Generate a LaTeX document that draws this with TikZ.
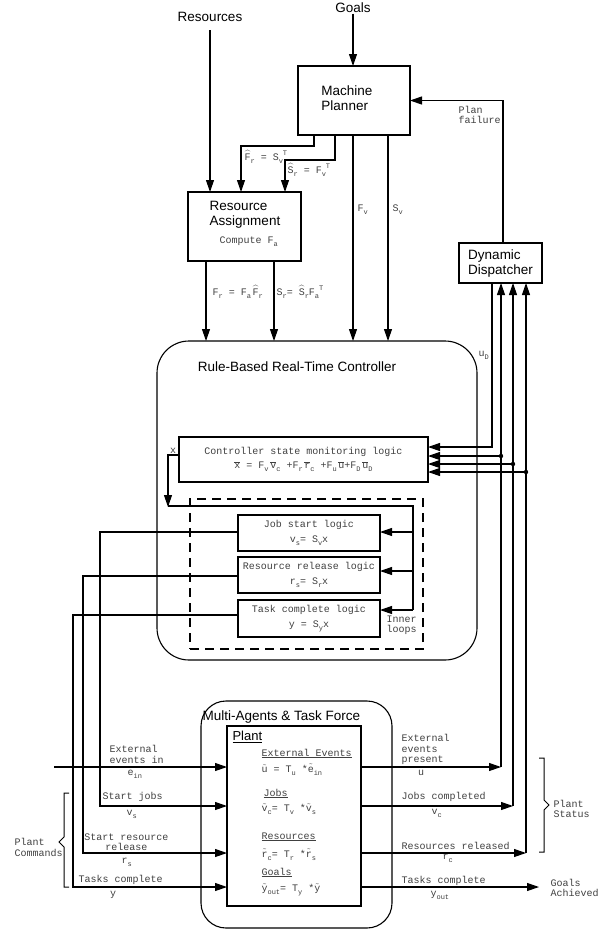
\documentclass[tikz,border=0pt]{standalone}
\usepackage{fontspec}
\setmainfont{Liberation Sans}
\newfontfamily\monof{Liberation Mono}
\usetikzlibrary{arrows.meta}
\newcommand\mysub[1]{\raisebox{-0.6ex}{\fontsize{7}{7}\selectfont #1}}
\newcommand\mysup[1]{\raisebox{0.9ex}{\fontsize{7}{7}\selectfont #1}}
\newcommand\hatc[1]{\ensuremath{\widehat{\hbox{#1}}}}
\newcommand\barc[1]{\ensuremath{\overline{\hbox{#1}}}}
\newcommand\tldc[1]{\smash{\ensuremath{\tilde{\hbox{#1}}}}}
\newcommand\ulh[1]{\smash{\underline{#1}}}
\tikzset{
 box/.style={draw, line width=1.1pt, inner sep=0pt, outer sep=0pt},
 stxt/.style={inner sep=0pt, font=\fontsize{13.5}{14.5}\selectfont},
 mtxt/.style={inner sep=0pt, font=\monof\fontsize{10}{10.5}\selectfont, text=black!75},
 arr/.style={-{Triangle[length=12pt,width=8pt]}},
 brk/.style={line width=1pt},
}
\begin{document}
\begin{tikzpicture}[x=1pt,y=-1pt,line width=1.1pt]
\useasboundingbox (0,0) rectangle (603,932);

% ---------- top inputs ----------
\node[stxt] (res) at (210,17) {Resources};
\node[stxt] (goals) at (353,8) {Goals};
\coordinate (resS) at (210,30);

% ---------- Machine Planner ----------
\node[box, minimum width=112pt, minimum height=69pt] (mp) at (354,100.5) {};
\node[stxt, align=left] (mpt) at (347,98) {Machine\\Planner};

% ---------- Resource Assignment ----------
\node[box, minimum width=113pt, minimum height=69pt] (ra) at (244.5,226.5) {};
\node[stxt, align=left] (rat) at (245,215) {Resource\\Assignment};
\node[mtxt, anchor=west] (rac) at (219,242) {Compute F\mysub{a}};

% ---------- Dynamic Dispatcher ----------
\node[box, minimum width=83pt, minimum height=40pt] (dd) at (500.5,263) {};
\node[stxt, align=left] (ddt) at (500.5,263.5) {Dynamic\\Dispatcher};

% ---------- Controller ----------
\node[box, rounded corners=32pt, minimum width=320pt, minimum height=319pt] (ctrl) at (317,500.5) {};
\node[stxt] (ctrlt) at (297,367) {Rule-Based Real-Time Controller};
\node[box, mtxt, minimum width=249pt, minimum height=45pt, align=center] (mon) at (303.5,459.5)
 {Controller state monitoring logic\\[3.5pt]
  \barc{x} = F\mysub{v}\,\barc{v}\mysub{c} +F\mysub{r}\,\barc{r}\mysub{c} +F\mysub{u}\,\barc{u}+F\mysub{D}\,\barc{u}\mysub{D}};
\node[box, dash pattern=on 9pt off 6pt, minimum width=233pt, minimum height=150pt] (inl) at (306.5,574) {};
\node[box, mtxt, minimum width=142pt, minimum height=36pt, align=center] (js) at (309,533)
 {Job start logic\\[4pt]v\mysub{s}= S\mysub{v}x};
\node[box, mtxt, minimum width=142pt, minimum height=36pt, align=center] (rr) at (309,575)
 {Resource release logic\\[4pt]r\mysub{s}= S\mysub{r}x};
\node[box, mtxt, minimum width=142pt, minimum height=37pt, align=center] (tc) at (309,618.5)
 {Task complete logic\\[4pt]y = S\mysub{y}x};
\node[mtxt, align=left, anchor=west] (innr) at (386,625) {Inner\\loops};
\node[mtxt] (xl) at (173,451) {x};
\node[mtxt, anchor=west] (udl) at (478,355) {u\mysub{D}};

% ---------- Plant ----------
\node[box, rounded corners=25pt, minimum width=191pt, minimum height=227pt] (mat) at (296.5,814.5) {};
\node[stxt, anchor=west] (matt) at (202,717) {Multi-Agents \& Task Force};
\node[box, minimum width=134pt, minimum height=180pt] (plant) at (294,816) {};
\node[stxt, anchor=west, font=\fontsize{13}{14}\selectfont] (plantt) at (232,737) {\underline{Plant}};
\node[mtxt, anchor=west] (pe1) at (261,756) {\ulh{External Events}};
\node[mtxt, anchor=west] (pe2) at (261,770) {\tldc{u} = T\mysub{u} *\tldc{e}\mysub{in}};
\node[mtxt, anchor=west] (pj1) at (263,796) {\ulh{Jobs}};
\node[mtxt, anchor=west] (pj2) at (261,809.5) {\tldc{v}\mysub{c}= T\mysub{v} *\tldc{v}\mysub{s}};
\node[mtxt, anchor=west] (pr1) at (261,839) {\ulh{Resources}};
\node[mtxt, anchor=west] (pr2) at (261,855) {\tldc{r}\mysub{c}= T\mysub{r} *\tldc{r}\mysub{s}};
\node[mtxt, anchor=west] (pg1) at (261,875) {\ulh{Goals}};
\node[mtxt, anchor=west] (pg2) at (261,890) {\tldc{y}\mysub{out}= T\mysub{y} *\tldc{y}};

% ---------- labels ----------
\node[mtxt, align=left, anchor=west] (pfl) at (458,115) {Plan\\failure};
\node[mtxt, anchor=west] (l1) at (244,157) {\hatc{F}\mysub{r} = S\mysub{v}\mysup{T}};
\node[mtxt, anchor=west] (l2) at (287,170) {\hatc{S}\mysub{r} = F\mysub{v}\mysup{T}};
\node[mtxt, anchor=west] (l3) at (357,210) {F\mysub{v}};
\node[mtxt, anchor=west] (l4) at (392,210) {S\mysub{v}};
\node[mtxt, anchor=west] (l5) at (212,292) {F\mysub{r} = F\mysub{a}\,\hatc{F}\mysub{r}};
\node[mtxt, anchor=west] (l6) at (276,292) {S\mysub{r}= \hatc{S}\mysub{r}F\mysub{a}\mysup{T}};

\node[mtxt, align=left, anchor=west] (lin1) at (109,754.5) {External\\events in};
\node[mtxt, anchor=west] (lin1b) at (127,774) {e\mysub{in}};
\node[mtxt, anchor=west] (lin2) at (102,797) {Start jobs};
\node[mtxt, anchor=west] (lin2b) at (126,814) {v\mysub{s}};
\node[mtxt, align=center] (lin3) at (126.5,842) {Start resource\\release};
\node[mtxt, anchor=west] (lin3b) at (121,862) {r\mysub{s}};
\node[mtxt, anchor=west] (lin4) at (78,880) {Tasks complete};
\node[mtxt] (lin4b) at (113,895) {y};
\node[mtxt, align=left, anchor=west] (pcm) at (14,847.5) {Plant\\Commands};

\node[mtxt, align=left, anchor=west] (lo1) at (401,749.5) {External\\events\\present};
\node[mtxt] (lo1b) at (421,773) {u};
\node[mtxt, anchor=west] (lo2) at (401,797) {Jobs completed};
\node[mtxt, anchor=west] (lo2b) at (431,813) {v\mysub{c}};
\node[mtxt, anchor=west] (lo3) at (401,846) {Resources released};
\node[mtxt, anchor=west] (lo3b) at (442,858) {r\mysub{c}};
\node[mtxt, anchor=west] (lo4) at (401,881) {Tasks complete};
\node[mtxt, anchor=west] (lo4b) at (430,895) {y\mysub{out}};
\node[mtxt, align=left, anchor=west] (gach) at (550,888) {Goals\\Achieved};
\node[mtxt, align=left, anchor=west] (pst) at (553,809) {Plant\\Status};

% ---------- connectors (top) ----------
\draw[arr] (goals.south) -- (goals.south |- mp.north);
\draw[arr] (resS) -- (resS |- ra.north);
\draw[arr] (314,0 |- mp.south) |- (241,146) -- (241,0 |- ra.north);
\draw[arr] (335,0 |- mp.south) |- (285,160) -- (285,0 |- ra.north);
\draw[arr] (353,0 |- mp.south) -- (353,0 |- ctrl.north);
\draw[arr] (388,0 |- mp.south) -- (388,0 |- ctrl.north);
\draw[arr] (206,0 |- ra.south) -- (206,0 |- ctrl.north);
\draw[arr] (274,0 |- ra.south) -- (274,0 |- ctrl.north);
\draw[arr] (503,0 |- dd.north) |- (mp.east);

% ---------- dispatcher / monitor ----------
\draw[arr] (492,0 |- dd.south) |- (mon.east |- 0,447);
\coordinate (ou) at (501,767);
\coordinate (ov) at (513,806);
\coordinate (or) at (526,853);
\draw[arr] (ou) -- (ou |- dd.south);
\draw[arr] (ov) -- (ov |- dd.south);
\draw[arr] (or) -- (or |- dd.south);
\draw[arr] (501,456) -- (mon.east |- 0,456);
\draw[arr] (513,464) -- (mon.east |- 0,464);
\draw[arr] (526,472) -- (mon.east |- 0,472);
\fill (501,456) circle (2.2pt);
\fill (513,464) circle (2.2pt);
\fill (526,472) circle (2.2pt);

% ---------- inner loops ----------
\draw[arr] (mon.west |- 0,455) -| (168,507);
\draw (168,506) -| (413,610);
\draw[arr] (413,532) -- (js.east |- 0,532);
\draw[arr] (413,571) -- (rr.east |- 0,571);
\draw[arr] (413,610) -- (tc.east |- 0,610);

% ---------- plant inputs ----------
\coordinate (ein) at (54,767);
\draw[arr] (ein) -- (plant.west |- ein);
\draw[arr] (js.west |- 0,532) -| (100,806) -- (plant.west |- 0,806);
\draw[arr] (rr.west |- 0,576) -| (83,853) -- (plant.west |- 0,853);
\draw[arr] (tc.west |- 0,615) -| (73,887) -- (plant.west |- 0,887);

% ---------- plant outputs ----------
\draw[arr] (plant.east |- ou) -- (ou);
\draw[arr] (plant.east |- ov) -- (ov);
\draw[arr] (plant.east |- or) -- (or);
\draw[arr] (plant.east |- 0,887) -- (539,887);

% ---------- brackets ----------
\draw[brk] (69,793) -- (64,793) -- (64,837) -- (59,842) -- (64,847) -- (64,887) -- (69,887);
\draw[brk] (539,758) -- (544,758) -- (544,800) -- (549,805) -- (544,810) -- (544,852) -- (539,852);
\end{tikzpicture}
\end{document}
